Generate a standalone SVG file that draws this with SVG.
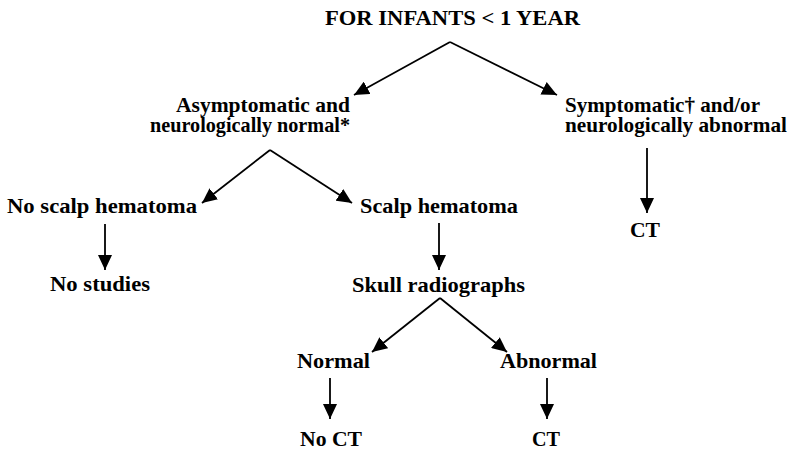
<svg xmlns="http://www.w3.org/2000/svg" width="792" height="449" viewBox="0 0 792 449">
<style>
text{font-family:"Liberation Serif","Times New Roman",serif;font-weight:bold;font-size:22px;fill:#000}
.c{stroke:#000;stroke-width:1.8;fill:none;marker-end:url(#ah)}
</style>
<defs>
<marker id="ah" markerUnits="userSpaceOnUse" markerWidth="16" markerHeight="14" refX="15" refY="7" orient="auto">
<path d="M0,0 L15,7 L0,14 z" fill="#000"/>
</marker>
</defs>
<rect width="792" height="449" fill="#fff"/>
<g id="connectors">
<line class="c" x1="450" y1="42" x2="354" y2="95"/>
<line class="c" x1="450" y1="42" x2="557" y2="95"/>
<line class="c" x1="270" y1="150" x2="202" y2="203"/>
<line class="c" x1="270" y1="150" x2="352" y2="203"/>
<line class="c" x1="105" y1="224" x2="105" y2="270"/>
<line class="c" x1="439" y1="223" x2="439" y2="270"/>
<line class="c" x1="440" y1="298" x2="372" y2="352"/>
<line class="c" x1="440" y1="298" x2="507" y2="352"/>
<line class="c" x1="330" y1="378" x2="330" y2="419"/>
<line class="c" x1="547" y1="378" x2="547" y2="419"/>
<line class="c" x1="647" y1="148" x2="647" y2="213"/>
</g>
<g id="title"><text x="325" y="25" textLength="255" lengthAdjust="spacingAndGlyphs">FOR INFANTS &lt; 1 YEAR</text></g>
<g id="asymptomatic">
<text x="176" y="112" textLength="174" lengthAdjust="spacingAndGlyphs">Asymptomatic and</text>
<text x="150" y="132" textLength="200" lengthAdjust="spacingAndGlyphs">neurologically normal*</text>
</g>
<g id="symptomatic">
<text x="565" y="112" textLength="195" lengthAdjust="spacingAndGlyphs">Symptomatic† and/or</text>
<text x="565" y="132" textLength="222" lengthAdjust="spacingAndGlyphs">neurologically abnormal</text>
</g>
<g id="ct-right"><text x="630" y="237" textLength="30" lengthAdjust="spacingAndGlyphs">CT</text></g>
<g id="no-scalp"><text x="7" y="213" textLength="190" lengthAdjust="spacingAndGlyphs">No scalp hematoma</text></g>
<g id="scalp"><text x="360" y="213" textLength="158" lengthAdjust="spacingAndGlyphs">Scalp hematoma</text></g>
<g id="no-studies"><text x="50" y="291" textLength="100" lengthAdjust="spacingAndGlyphs">No studies</text></g>
<g id="skull"><text x="352" y="292" textLength="173" lengthAdjust="spacingAndGlyphs">Skull radiographs</text></g>
<g id="normal"><text x="297" y="368" textLength="73" lengthAdjust="spacingAndGlyphs">Normal</text></g>
<g id="abnormal"><text x="500" y="368" textLength="97" lengthAdjust="spacingAndGlyphs">Abnormal</text></g>
<g id="no-ct"><text x="300" y="446" textLength="62" lengthAdjust="spacingAndGlyphs">No CT</text></g>
<g id="ct-bottom"><text x="532" y="446" textLength="28" lengthAdjust="spacingAndGlyphs">CT</text></g>
</svg>
